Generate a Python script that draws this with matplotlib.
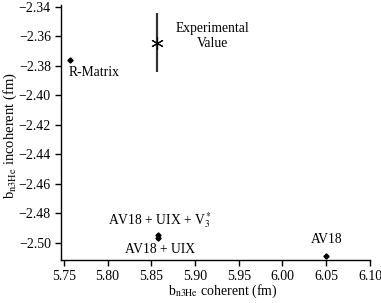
import matplotlib
matplotlib.use("Agg")
import matplotlib.pyplot as plt

# scattering lengths (fm)
labels = ["R-Matrix", "AV18 + UIX + V$_3^*$", "AV18 + UIX", "AV18"]
b_coh = [5.757, 5.858, 5.858, 6.050]
b_inc = [-2.376, -2.4945, -2.4970, -2.5090]

exp_coh = 5.856
exp_inc = -2.3643
exp_err = 0.020

xticks = [5.75, 5.80, 5.85, 5.90, 5.95, 6.00, 6.05, 6.10]
yticks = [-2.34, -2.36, -2.38, -2.40, -2.42, -2.44, -2.46, -2.48, -2.50]

plt.rcParams["font.family"] = ["Liberation Serif", "DejaVu Serif"]
plt.rcParams["mathtext.fontset"] = "stix"

fig = plt.figure(figsize=(3.81, 3.03), dpi=100)
ax = fig.add_axes([0.159, 0.142, 0.812, 0.841])

ax.plot(b_coh, b_inc, linestyle="none", marker="D", markersize=2.6, color="black")
ax.errorbar([exp_coh], [exp_inc], yerr=[exp_err], fmt="none", ecolor="#333333",
            elinewidth=1.6, capsize=0)
ax.plot([exp_coh], [exp_inc], marker=(6, 2, 0), markersize=9, color="black",
        markeredgewidth=0.8, linestyle="none")

fs = 9.8
ax.text(b_coh[0] - 0.002, b_inc[0] - 0.0045, labels[0], fontsize=fs, ha="left", va="top")
ax.text(5.9204, -2.3601, "Experimental\nValue", fontsize=fs,
        ha="center", va="center", linespacing=1.2)
ax.text(b_coh[1] + 0.002, b_inc[1] + 0.0030, labels[1], fontsize=fs, ha="center", va="bottom")
ax.text(b_coh[2] + 0.002, b_inc[2] - 0.0030, labels[2], fontsize=fs, ha="center", va="top")
ax.text(b_coh[3], b_inc[3] + 0.0070, labels[3], fontsize=fs, ha="center", va="bottom")

ax.set_xlim(5.7463, 6.10)
ax.set_ylim(-2.5116, -2.339)
ax.set_xticks(xticks)
ax.set_xticklabels([f"{v:.2f}" for v in xticks])
ax.set_yticks(yticks)
ax.set_yticklabels([f"{v:.2f}".replace("-", "\u2212") for v in yticks])

for side in ["top", "right"]:
    ax.spines[side].set_visible(False)
for side in ["left", "bottom"]:
    ax.spines[side].set_linewidth(1.0)
ax.tick_params(direction="out", length=4, width=1.0, labelsize=10, pad=3)

ax.set_xlabel("b$_{\\mathrm{n3He}}$ coherent (fm)", fontsize=10)
ax.xaxis.set_label_coords(0.525, -0.09)
ax.set_ylabel("b$_{\\mathrm{n3He}}$ incoherent (fm)", fontsize=10.5)
ax.yaxis.set_label_coords(-0.135, 0.49)

fig.savefig("out.png", dpi=100)
